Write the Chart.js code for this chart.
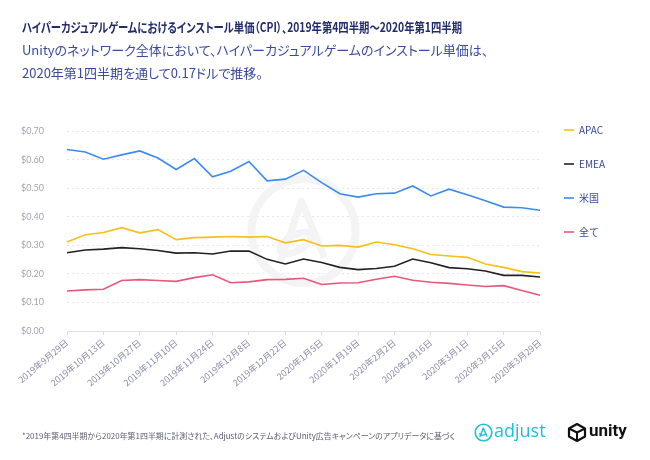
<!DOCTYPE html>
<html><head><meta charset="utf-8">
<script src="https://cdn.jsdelivr.net/npm/chart.js@4.4.1/dist/chart.umd.min.js"></script>
<style>
html,body{margin:0;padding:0;background:#fff;width:650px;height:460px;overflow:hidden;font-family:"Noto Sans CJK JP","Noto Sans",sans-serif;}
#wrap{position:relative;width:650px;height:460px;}
canvas{position:absolute;left:0;top:0;}
.t{position:absolute;left:22px;white-space:nowrap;transform-origin:0 50%;display:inline-block;line-height:1;z-index:2;font-feature-settings:"palt" 1;}
#title{top:20px;font-size:13px;font-weight:700;color:#222b6c;}
#sub1{top:43px;font-size:13px;color:#3a4a9e;}
#sub2{top:66px;font-size:13px;color:#3a4a9e;}
#foot{top:432px;font-size:8px;color:#5a5e70;}
.logo{position:absolute;z-index:2;line-height:1;white-space:nowrap;}
</style></head>
<body><div id="wrap">
<canvas id="c" width="650" height="460"></canvas>
<div class="t" id="title" data-w="440">ハイパーカジュアルゲームにおけるインストール単価（CPI）、2019年第4四半期〜2020年第1四半期</div>
<div class="t" id="sub1">Unityのネットワーク全体において、ハイパーカジュアルゲームのインストール単価は、</div>
<div class="t" id="sub2">2020年第1四半期を通して0.17ドルで推移。</div>
<div class="t" id="foot" data-w="433">*2019年第4四半期から2020年第1四半期に計測された、AdjustのシステムおよびUnity広告キャンペーンのアプリデータに基づく</div>
<svg class="logo" style="left:474px;top:423px" width="19" height="19" viewBox="0 0 19 19">
<circle cx="9.5" cy="9.5" r="8.3" fill="none" stroke="#1ec0d8" stroke-width="1.6"/>
<path d="M6 13.5 L9.3 5 L12.8 13 M5.6 10.8 Q8 13.5 11.5 11" fill="none" stroke="#1ec0d8" stroke-width="1.5" stroke-linecap="round" stroke-linejoin="round"/>
</svg>
<div class="logo" style="left:494px;top:421px;font-family:'Open Sans';font-size:18px;color:#1ec0d8;">adjust</div>
<svg class="logo" style="left:567px;top:423px" width="20" height="19" viewBox="0 0 20 19">
<path d="M10 1 L18 5.5 L18 13.5 L10 18 L2 13.5 L2 5.5 Z" fill="none" stroke="#111" stroke-width="2.2" stroke-linejoin="round"/>
<path d="M10 9.5 L10 18 M10 9.5 L2 5.5 M10 9.5 L18 5.5" stroke="#111" stroke-width="2" fill="none"/>
</svg>
<div class="logo" style="left:589px;top:422px;font-family:Roboto;font-weight:700;font-size:17px;color:#111;">unity</div>
</div>
<script>
const categories = ['2019年9月29日','2019年10月6日','2019年10月13日','2019年10月20日','2019年10月27日','2019年11月3日','2019年11月10日','2019年11月17日','2019年11月24日','2019年12月1日','2019年12月8日','2019年12月15日','2019年12月22日','2019年12月29日','2020年1月5日','2020年1月12日','2020年1月19日','2020年1月26日','2020年2月2日','2020年2月9日','2020年2月16日','2020年2月23日','2020年3月1日','2020年3月8日','2020年3月15日','2020年3月22日','2020年3月29日'];
const seriesNames = ['APAC','EMEA','米国','全て'];
const seriesColors = ['#f9bf18','#222222','#3b8bf3','#e8577a'];
const apac = [0.312,0.337,0.345,0.362,0.344,0.355,0.320,0.327,0.329,0.331,0.329,0.331,0.309,0.320,0.298,0.300,0.294,0.312,0.302,0.288,0.268,0.263,0.258,0.235,0.223,0.208,0.203];
const emea = [0.274,0.284,0.287,0.292,0.288,0.282,0.273,0.274,0.270,0.280,0.280,0.251,0.235,0.252,0.240,0.223,0.215,0.219,0.227,0.252,0.239,0.222,0.218,0.210,0.195,0.195,0.189];
const us = [0.636,0.627,0.602,0.617,0.631,0.606,0.566,0.604,0.540,0.560,0.594,0.526,0.532,0.563,0.520,0.481,0.469,0.481,0.483,0.508,0.473,0.497,0.477,0.456,0.434,0.432,0.423];
const all = [0.140,0.144,0.146,0.177,0.180,0.177,0.174,0.187,0.197,0.169,0.172,0.180,0.181,0.185,0.163,0.168,0.169,0.181,0.192,0.178,0.171,0.167,0.161,0.156,0.159,0.142,0.125];
const seriesValues = [apac, emea, us, all];
const yMin = 0, yMax = 0.7, yStep = 0.1;

document.querySelectorAll('.t[data-w]').forEach(el => {
  const target = parseFloat(el.dataset.w);
  const w = el.getBoundingClientRect().width;
  el.style.transform = 'scaleX(' + (target / w) + ')';
});

const watermark = {
  id: 'wm',
  beforeDatasetsDraw(chart) {
    const {ctx, chartArea: a} = chart;
    const cx = (a.left + a.right) / 2, cy = (a.top + a.bottom) / 2;
    ctx.save();
    ctx.strokeStyle = '#f4f4f4';
    ctx.lineWidth = 8;
    ctx.beginPath(); ctx.arc(cx, cy, 52, 0, Math.PI * 2); ctx.stroke();
    ctx.lineWidth = 7; ctx.lineJoin = 'round'; ctx.lineCap = 'round';
    ctx.beginPath(); ctx.moveTo(cx - 22, cy + 28); ctx.lineTo(cx - 2, cy - 30); ctx.lineTo(cx + 20, cy + 24); ctx.stroke();
    ctx.beginPath(); ctx.ellipse(cx - 8, cy + 12, 17, 8, -0.5, 0, Math.PI * 2); ctx.stroke();
    ctx.restore();
  }
};

new Chart(document.getElementById('c'), {
  type: 'line',
  data: {
    labels: categories,
    datasets: seriesNames.map((n, i) => ({
      label: n, data: seriesValues[i], borderColor: seriesColors[i], backgroundColor: seriesColors[i],
      borderWidth: 1.6, pointRadius: 0, tension: 0, fill: false
    }))
  },
  options: {
    responsive: false, animation: false, devicePixelRatio: 1,
    layout: {padding: {top: 101, right: 35, bottom: 0, left: 0}},
    plugins: {
      title: {display: true, text: '', fullSize: false, font: {size: 1}, padding: {top: 29, bottom: 0}},
      legend: {
        position: 'right', align: 'start',
        labels: {usePointStyle: true, pointStyle: 'line', pointStyleWidth: 10, boxHeight: 10, padding: 24,
          color: '#3b4a96', font: {size: 10, family: "'Noto Sans CJK JP','Noto Sans'"}}
      },
      tooltip: {enabled: false}
    },
    scales: {
      x: {
        grid: {drawOnChartArea: false, drawTicks: true, tickLength: 4, color: '#dddddd'},
        border: {display: true, color: '#e2e2e2'},
        ticks: {autoSkip: false, maxRotation: 40, minRotation: 40, padding: 2, color: '#8a8ca6',
          font: {size: 9, family: "'Noto Sans CJK JP'"},
          callback: function (v, i) { return i % 2 === 0 ? this.getLabelForValue(v) : null; }},
        afterFit: s => { s.height = 129; }
      },
      y: {
        min: yMin, max: yMax,
        ticks: {stepSize: yStep, padding: 23, color: '#a3a3b3', font: {size: 9, family: 'Lato'},
          callback: v => '$' + Number(v).toFixed(2)},
        grid: {color: '#e6e6e6', drawTicks: false},
        border: {display: false, dash: [2, 3]},
        afterFit: s => { s.width = 67; }
      }
    }
  },
  plugins: [watermark]
});
</script>
</body></html>
